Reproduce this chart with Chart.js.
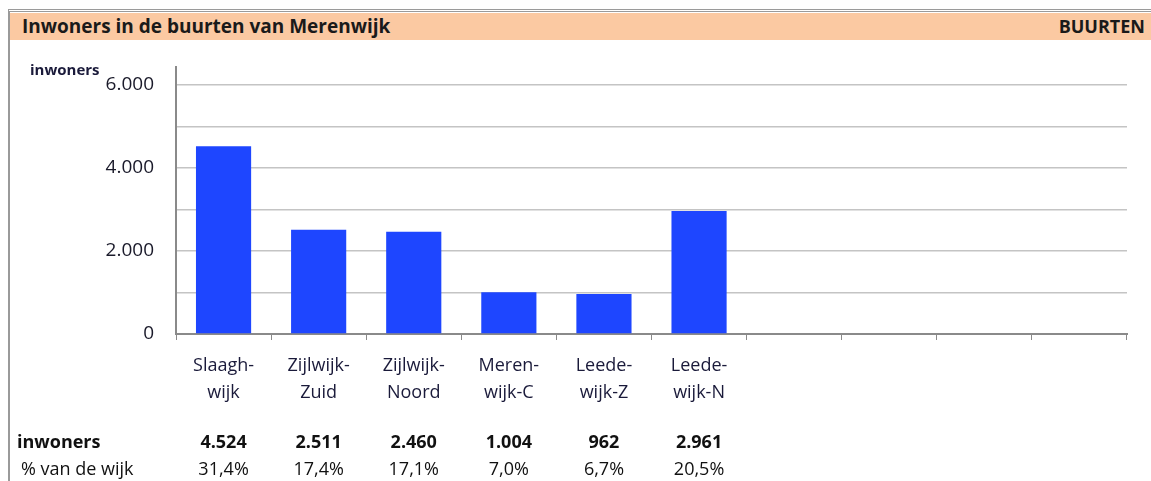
<!DOCTYPE html>
<html><head><meta charset="utf-8">
<script src="https://cdn.jsdelivr.net/npm/chart.js@4/dist/chart.umd.min.js"></script>
<style>
html,body{margin:0;padding:0;background:#fff;width:1151px;height:481px;overflow:hidden;font-family:"Open Sans",sans-serif;}
#frame{position:absolute;left:8px;top:9px;width:1143px;height:472px;border-left:2px solid #9a9a9a;border-top:3px double #9a9a9a;box-sizing:border-box;}
#band{position:absolute;left:10px;top:13px;width:1141px;height:27px;background:#fbc9a2;}
#title{position:absolute;left:22px;top:14px;font-weight:bold;font-size:19px;line-height:24px;color:#1a1a1a;white-space:nowrap;}
#buurten{position:absolute;right:6px;top:15px;font-weight:bold;font-size:18px;line-height:22px;color:#1a1a1a;}
#ylab{position:absolute;left:30px;top:61px;font-weight:bold;font-size:15px;line-height:16px;color:#1a1a3a;}
#wrap{position:absolute;left:0;top:0;width:1151px;height:481px;}
</style></head><body>
<div id="wrap"><canvas id="c" width="1151" height="481"></canvas></div>
<div id="frame"></div>
<div id="band"></div>
<div id="title">Inwoners in de buurten van Merenwijk</div>
<div id="buurten">BUURTEN</div>
<div id="ylab">inwoners</div>
<script>
const categories = [['Slaagh-','wijk'],['Zijlwijk-','Zuid'],['Zijlwijk-','Noord'],['Meren-','wijk-C'],['Leede-','wijk-Z'],['Leede-','wijk-N'],'','','',''];
const inwoners = [4524, 2511, 2460, 1004, 962, 2961, null, null, null, null];
const inwonersLabels = ['4.524','2.511','2.460','1.004','962','2.961'];
const percentLabels = ['31,4%','17,4%','17,1%','7,0%','6,7%','20,5%'];
const yTickLabels = {0:'0',2000:'2.000',4000:'4.000',6000:'6.000'};
const FONT = '"Open Sans", sans-serif';

const tablePlugin = {
  id:'table',
  afterDraw(chart){
    const ctx = chart.ctx, xs = chart.scales.x;
    ctx.save();
    ctx.fillStyle = '#111';
    ctx.textBaseline = 'middle';
    ctx.font = 'bold 18px ' + FONT;
    ctx.textAlign = 'left';
    ctx.fillText('inwoners', 17, 443);
    ctx.font = '18px ' + FONT;
    ctx.fillText('% van de wijk', 21, 470);
    ctx.textAlign = 'center';
    inwonersLabels.forEach((t,i)=>{
      const x = xs.getPixelForValue(i);
      ctx.font = 'bold 18px ' + FONT;
      ctx.fillText(t, x, 443);
      ctx.font = '18px ' + FONT;
      ctx.fillText(percentLabels[i], x, 470);
    });
    ctx.restore();
  }
};

new Chart(document.getElementById('c'), {
  type:'bar',
  data:{labels:categories, datasets:[{data:inwoners, backgroundColor:'#1e46ff', barPercentage:0.58, categoryPercentage:1}]},
  options:{
    responsive:false, animation:false,
    layout:{padding:{top:67,right:24,left:0,bottom:0}},
    plugins:{legend:{display:false},tooltip:{enabled:false}},
    scales:{
      x:{
        offset:true,
        grid:{drawOnChartArea:false, drawTicks:true, tickLength:6, color:'#8a8a8a', offset:true},
        border:{color:'#8a8a8a', width:2},
        ticks:{color:'#1a1a3a', font:{family:FONT, size:18, lineHeight:1.5}, padding:12, maxRotation:0, autoSkip:false},
        afterFit(s){ s.height = 147; }
      },
      y:{
        min:0, max:6430,
        afterBuildTicks(s){ s.ticks = [0,1000,2000,3000,4000,5000,6000].map(v=>({value:v})); },
        grid:{color:'#c4c4c4', lineWidth:1.5, drawTicks:false},
        border:{color:'#8a8a8a', width:2},
        ticks:{color:'#1a1a2a', font:{family:FONT, size:19}, padding:22,
          callback:v=> (yTickLabels[v]!==undefined ? yTickLabels[v] : '')},
        afterFit(s){ s.width = 176; }
      }
    }
  },
  plugins:[tablePlugin]
});
</script>
</body></html>
